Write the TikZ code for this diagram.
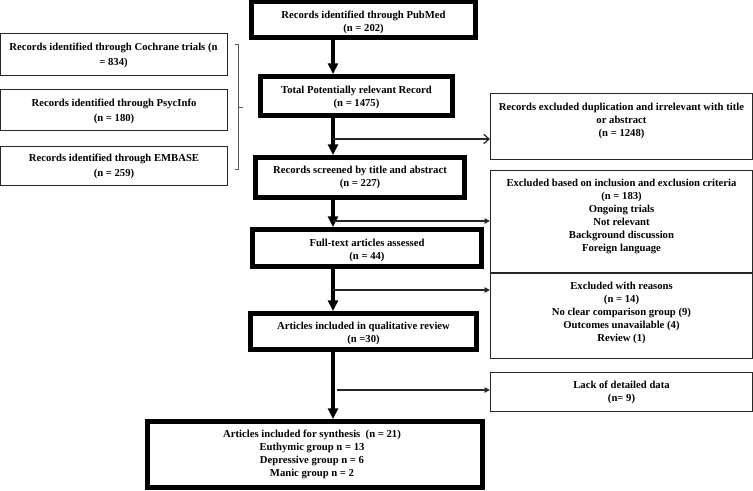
\documentclass[tikz,border=0pt]{standalone}
\usepackage{fontspec}
\setmainfont{Liberation Serif}
\usetikzlibrary{arrows.meta,fit}
\begin{document}
\begin{tikzpicture}[x=0.75pt,y=-0.75pt,
  thickbox/.style={draw=black, line width=3.75pt, inner sep=0pt},
  thinbox/.style={draw=black!85, line width=0.8pt, inner sep=0pt},
  txt/.style={font=\bfseries\fontsize{8}{9.75}\selectfont, align=center, inner sep=0pt, yshift=-1.2pt},
  ltxt/.style={font=\bfseries\fontsize{8}{11.25}\selectfont, align=center, inner sep=0pt, yshift=-1.2pt},
  mainarrow/.style={line width=3pt, -{Triangle[length=8pt,width=7.5pt]}},
  sidearrow/.style={line width=0.9pt, black!85, -{Triangle[length=4pt,width=4pt]}},
  openarrow/.style={line width=0.9pt, black!85, -{Straight Barb[length=4pt,width=7pt,line width=0.9pt]}}]
\useasboundingbox (0,0) rectangle (753,490);

% thick main boxes
\node[thickbox, fit={(251.5,1.5) (475.5,37.5)}] (pub) {};
\node[thickbox, fit={(260.5,76.5) (452.5,115.5)}] (tot) {};
\node[thickbox, fit={(255.5,157.5) (464.5,197.5)}] (scr) {};
\node[thickbox, fit={(252.5,229.5) (481.5,266.5)}] (full) {};
\node[thickbox, fit={(250.5,313.5) (476.5,349.5)}] (qual) {};
\node[thickbox, fit={(147.5,421.5) (482.5,487.5)}] (syn) {};

% thin boxes left
\node[thinbox, fit={(0.5,33.5) (227.5,75.5)}] (coc) {};
\node[thinbox, fit={(0.5,89.5) (227.5,130.5)}] (psy) {};
\node[thinbox, fit={(0.5,146.5) (227.5,185.5)}] (emb) {};

% thin boxes right
\node[thinbox, fit={(490.5,93.5) (752.5,159.5)}] (dup) {};
\node[thinbox, fit={(490.5,170.5) (752.5,273)}] (inc) {};
\node[thinbox, fit={(490.5,273) (752.5,358.5)}] (rea) {};
\node[thinbox, fit={(490.5,372.5) (752.5,411.5)}] (lack) {};

% texts
\node[txt] (pubt) at (363.5,20.5) {Records identified through PubMed\\(n = 202)};
\node[ltxt] (coct) at (113.5,53.5) {Records identified through Cochrane trials (n\\= 834)};
\node[ltxt] (psyt) at (114,109.5) {Records identified through PsycInfo\\(n = 180)};
\node[ltxt] (embt) at (114,165) {Records identified through EMBASE\\(n = 259)};
\node[txt] (tott) at (356.5,95.5) {Total Potentially relevant Record\\(n = 1475)};
\node[txt] (scrt) at (360,175.5) {Records screened by title and abstract\\(n = 227)};
\node[txt] (fullt) at (367,249) {Full-text articles assessed\\(n = 44)};
\node[txt] (qualt) at (363.5,331.5) {Articles included in qualitative review\\(n =30)};
\node[txt] (synt) at (312,453) {Articles included for synthesis\ \ (n = 21)\\Euthymic group n = 13\\Depressive group n = 6\\Manic group n = 2};
\node[txt] (dupt) at (621.5,119) {Records excluded duplication and irrelevant with title\\or abstract\\(n = 1248)};
\node[txt] (inct) at (621.5,214.5) {Excluded based on inclusion and exclusion criteria\\(n = 183)\\Ongoing trials\\Not relevant\\Background discussion\\Foreign language};
\node[txt] (reat) at (621.5,311) {Excluded with reasons\\(n = 14)\\No clear comparison group (9)\\Outcomes unavailable (4)\\Review (1)};
\node[txt] (lackt) at (621.5,390.5) {Lack of detailed data\\(n= 9)};

% bracket
\draw[black!65, line width=0.7pt] (235,44) -- (238,44) -- (238,169) -- (235,169);
\draw[black!65, line width=0.7pt] (238,107) -- (243,107);

% main flow
\coordinate (m) at (333,0);
\draw[mainarrow] (pub.south -| m) -- (tot.north -| m);
\draw[mainarrow] (tot.south -| m) -- (scr.north -| m);
\draw[mainarrow] (scr.south -| m) -- (full.north -| m);
\draw[mainarrow] (full.south -| m) -- (qual.north -| m);
\draw[mainarrow] (qual.south -| m) -- (syn.north -| m);

% side arrows
\coordinate (a1) at (333,139);
\coordinate (a2) at (333,221);
\coordinate (a3) at (333,290);
\coordinate (a4) at (337,390);
\draw[openarrow] (a1) -- (a1 -| dup.west);
\draw[sidearrow] (a2) -- (a2 -| inc.west);
\draw[sidearrow] (a3) -- (a3 -| rea.west);
\draw[sidearrow] (a4) -- (a4 -| lack.west);
\end{tikzpicture}
\end{document}
